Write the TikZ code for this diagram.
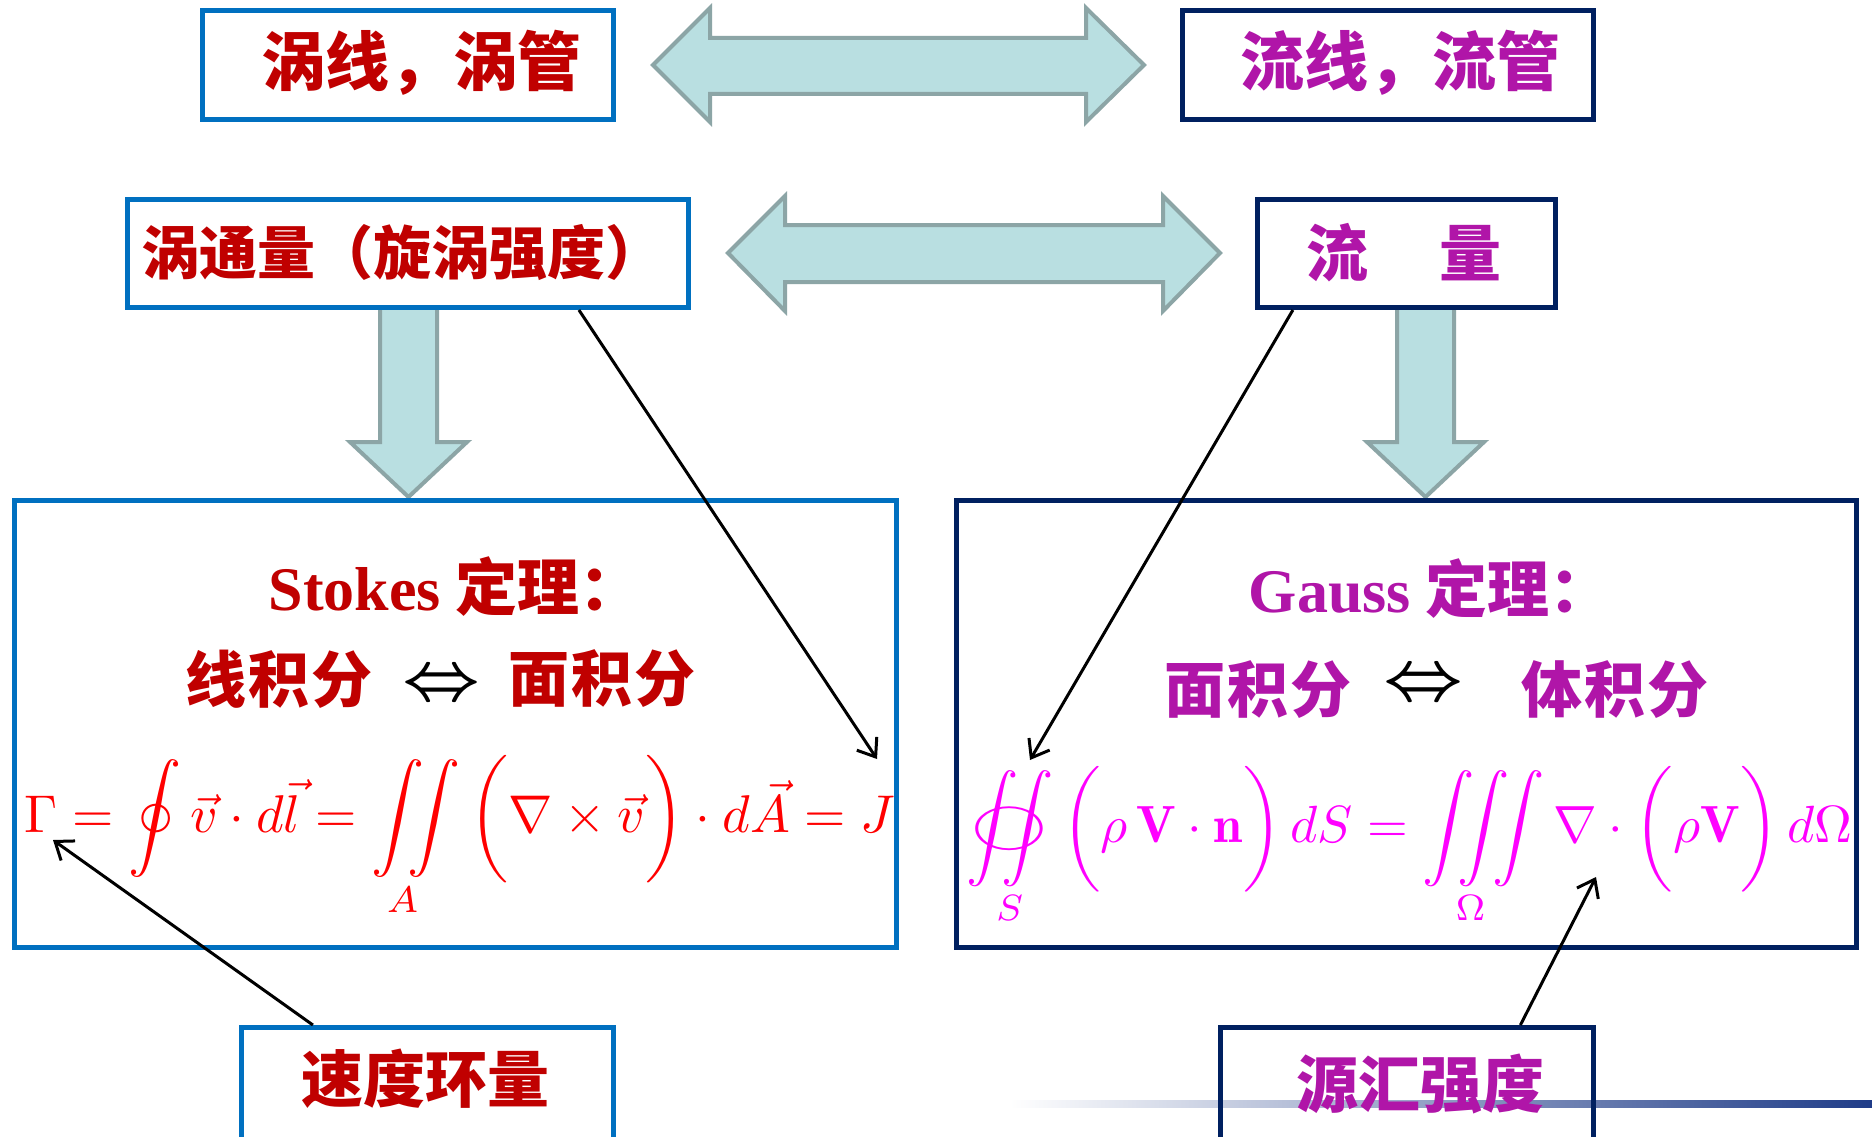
\documentclass[tikz,border=0pt]{standalone}
\usepackage{fontspec}
\usepackage{amsmath}
\usepackage{graphicx}
\usetikzlibrary{arrows.meta,calc}
\newfontfamily\cjk{Noto Sans CJK SC}
\newfontfamily\tnr{Liberation Serif}
\definecolor{boxblue}{HTML}{0070C0}
\definecolor{navyb}{HTML}{002060}
\definecolor{afill}{HTML}{B9DFE1}
\definecolor{aline}{HTML}{8CA5A6}
\definecolor{dred}{HTML}{C00000}
\definecolor{purp}{HTML}{B015A8}
\definecolor{fred}{HTML}{FF0000}
\definecolor{fmag}{HTML}{FF00FF}
\definecolor{gline}{HTML}{1F3C88}
\newsavebox\myintbox
\newcommand{\myoiint}{\mathop{\sbox\myintbox{$\displaystyle\iint$}\usebox\myintbox\kern-\wd\myintbox\hbox to \wd\myintbox{\hss$\vcenter{\hbox{\scalebox{1.45}[0.9]{$\bigcirc$}}}$\hss}}\limits}
\begin{document}
\begin{tikzpicture}[x=1pt,y=-1pt,
  fat/.style={fill=afill,draw=aline,line width=4pt,line join=miter},
  boxb/.style={draw=boxblue,line width=5pt,inner sep=0pt},
  boxn/.style={draw=navyb,line width=5pt,inner sep=0pt},
  zh/.style={font=\cjk\bfseries\fontsize{62}{70}\selectfont,inner sep=0pt},
  zhs/.style={font=\cjk\bfseries\fontsize{61}{70}\selectfont,inner sep=0pt},
  zhl/.style={font=\cjk\bfseries\fontsize{64}{72}\selectfont,inner sep=0pt},
  conn/.style={line width=3pt,-{Straight Barb[length=16pt,width=24pt,line width=3pt]}},
  dbl/.style={inner sep=0pt}]
\useasboundingbox (0,0) rectangle (1872,1137);
\clip (0,0) rectangle (1872,1137);
\fill[white] (0,0) rectangle (1872,1137);
% fat arrows
\draw[fat] (653,65) -- (710,8) -- (710,38) -- (1086,38) -- (1086,8) -- (1144,65) -- (1086,122) -- (1086,94) -- (710,94) -- (710,122) -- cycle;
\draw[fat] (728,253) -- (785,196) -- (785,225) -- (1163,225) -- (1163,196) -- (1220,253) -- (1163,311) -- (1163,282) -- (785,282) -- (785,311) -- cycle;
\draw[fat] (380,305) -- (437,305) -- (437,442) -- (467,442) -- (408.5,497) -- (350,442) -- (380,442) -- cycle;
\draw[fat] (1397,305) -- (1454,305) -- (1454,442) -- (1484,442) -- (1425.5,497) -- (1367,442) -- (1397,442) -- cycle;
% boxes
\node[boxb,fill=white,minimum width=411pt,minimum height=109pt] (b1) at (408,65) {};
\node[boxn,fill=white,minimum width=411pt,minimum height=109pt] (b2) at (1388,65) {};
\node[boxb,fill=white,minimum width=561pt,minimum height=108pt] (b3) at (408,253.5) {};
\node[boxn,fill=white,minimum width=298pt,minimum height=108pt] (b4) at (1406.5,253.5) {};
\node[boxb,minimum width=882pt,minimum height=447pt] (bl) at (455.5,724) {};
\node[boxn,minimum width=900pt,minimum height=447pt] (br) at (1406.5,724) {};
\shade[left color=white,right color=gline] (1010,1100) rectangle (1872,1107);
\node[boxb,minimum width=372pt,minimum height=172pt] (b5) at (427.5,1113.5) {};
\node[boxn,minimum width=373pt,minimum height=172pt] (b6) at (1407,1113.5) {};
% texts
\node[zhl,text=dred] (t1) at (421,63) {涡线，涡管};
\node[zhl,text=purp] (t2) at (1400,63) {流线，流管};
\node[zh,text=dred,font=\cjk\bfseries\fontsize{58}{64}\selectfont] (t3) at (402,253) {涡通量（旋涡强度）};
\node[zh,text=purp] (t4) at (1404,253) {流\hspace{72pt}量};
\node[zh,text=dred] (s1) at (455,587) {{\tnr\bfseries Stokes} 定理：};
\node[zhs,text=dred] (s2) at (279,679) {线\kern2pt 积\kern2pt 分};
\node[dbl] (s3) at (442,686) {\resizebox{78pt}{!}{$\boldsymbol{\Leftrightarrow}$}};
\node[zhs,text=dred] (s4) at (602,679) {面\kern2pt 积\kern2pt 分};
\node[zh,text=purp] (g1) at (1430,589) {{\tnr\bfseries Gauss} 定理：};
\node[zhs,text=purp] (g2) at (1258,690) {面\kern2pt 积\kern2pt 分};
\node[dbl] (g3) at (1424,686) {\resizebox{80pt}{!}{$\boldsymbol{\Leftrightarrow}$}};
\node[zhs,text=purp] (g4) at (1615,690) {体\kern2pt 积\kern2pt 分};
\node[zh,text=dred] (t5) at (425,1079) {速度环量};
\node[zh,text=purp] (t6) at (1420,1084) {源汇强度};
% formulas
\node[anchor=base west,inner sep=0pt,text=fred] (f1) at (24,832) {\resizebox{871pt}{!}{$\displaystyle \Gamma=\oint\vec{v}\cdot d\vec{l}=\iint\limits_{A}\left(\vphantom{\int}\nabla\times\vec{v}\right)\cdot d\vec{A}=J$}};
\node[anchor=base west,inner sep=0pt,text=fmag] (f2) at (966,842) {\resizebox{886pt}{!}{$\displaystyle \myoiint_{S}\left(\vphantom{\int}\rho\,\mathbf{V}\cdot\mathbf{n}\right)dS=\iiint\limits_{\Omega}\nabla\cdot\left(\vphantom{\int}\rho\mathbf{V}\right)d\Omega$}};
% connectors
\coordinate (e1) at (877,759);
\coordinate (e2) at (1030,760);
\coordinate (e3) at (53,840);
\coordinate (e4) at (1596,877);
\draw[conn] ($(b3.south west)!0.802!(b3.south east)$) -- (e1);
\draw[conn] ($(b4.south west)!0.125!(b4.south east)$) -- (e2);
\draw[conn] ($(b5.north west)!0.196!(b5.north east)$) -- (e3);
\draw[conn] ($(b6.north west)!0.80!(b6.north east)$) -- (e4);
\end{tikzpicture}
\end{document}
